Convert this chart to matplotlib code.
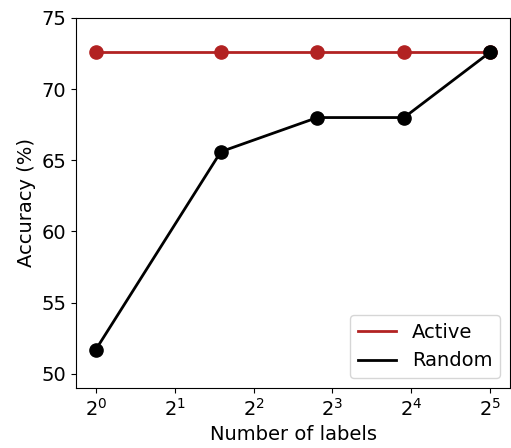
import matplotlib
matplotlib.use("Agg")
from matplotlib import pyplot as plt

# data
num_labels = [1, 3, 7, 15, 32]
active_acc = [72.6, 72.6, 72.6, 72.6, 72.6]
random_acc = [51.7, 65.6, 68.0, 68.0, 72.6]

if __name__ == "__main__":
    fig = plt.figure(figsize=(5.11, 4.48), dpi=100)
    ax = fig.add_axes([0.149, 0.134, 0.849, 0.826])

    # lines carry the legend entries, markers drawn separately (legend shows lines only)
    ax.plot(num_labels, active_acc, color="firebrick", linewidth=2, label="Active")
    ax.plot(num_labels, random_acc, color="black", linewidth=2, label="Random")
    ax.plot(num_labels, active_acc, "o", color="firebrick", markersize=9.5)
    ax.plot(num_labels, random_acc, "o", color="black", markersize=9.5)

    ax.set_xscale("log", base=2)
    ax.set_ylim(49, 75)
    ax.set_xlabel("Number of labels", fontsize=14)
    ax.set_ylabel("Accuracy (%)", fontsize=14)
    ax.tick_params(labelsize=14)
    ax.legend(loc="lower right", fontsize=14)

    fig.savefig("out.png")
